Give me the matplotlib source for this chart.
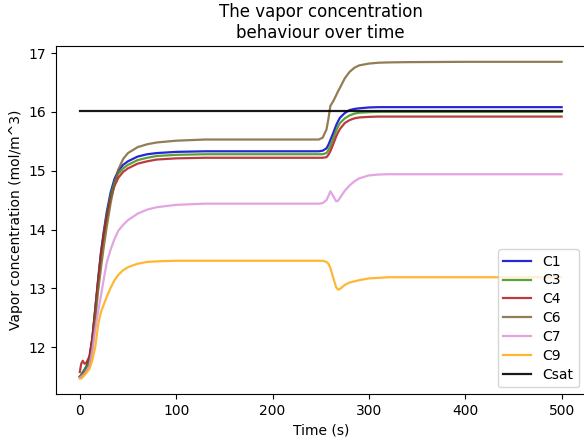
import matplotlib
matplotlib.use("Agg")
import matplotlib.pyplot as plt

# time samples (s)
time = [0, 1.5, 3, 5, 7, 10, 13, 16, 19, 22, 25, 28, 32, 36, 40, 45, 50, 60, 70, 80,
        100, 130, 200, 248, 252, 256, 258, 260, 263, 266, 268, 270, 275, 280, 285,
        290, 300, 310, 320, 340, 400, 500]

C1 = [11.50, 11.53, 11.57, 11.62, 11.68, 11.80, 12.15, 12.65, 13.15, 13.62, 13.98, 14.30,
      14.63, 14.86, 15.00, 15.10, 15.16, 15.24, 15.28, 15.30, 15.32, 15.33, 15.33, 15.33,
      15.34, 15.38, 15.44, 15.52, 15.64, 15.77, 15.84, 15.90, 15.98, 16.03, 16.05, 16.06,
      16.075, 16.08, 16.08, 16.08, 16.08, 16.08]
C3 = [11.50, 11.53, 11.57, 11.62, 11.68, 11.80, 12.13, 12.62, 13.12, 13.58, 13.94, 14.25,
      14.58, 14.81, 14.95, 15.04, 15.10, 15.18, 15.22, 15.25, 15.27, 15.28, 15.28, 15.28,
      15.28, 15.30, 15.35, 15.42, 15.55, 15.68, 15.75, 15.81, 15.89, 15.94, 15.97, 15.985,
      15.995, 16.0, 16.0, 16.0, 16.0, 16.0]
C4 = [11.58, 11.72, 11.77, 11.72, 11.74, 11.85, 12.15, 12.62, 13.12, 13.58, 13.92, 14.20,
      14.52, 14.74, 14.88, 14.98, 15.04, 15.12, 15.16, 15.19, 15.21, 15.22, 15.22, 15.22,
      15.22, 15.23, 15.27, 15.33, 15.45, 15.58, 15.65, 15.71, 15.81, 15.86, 15.89, 15.905,
      15.915, 15.92, 15.92, 15.92, 15.92, 15.92]
C6 = [11.50, 11.52, 11.54, 11.57, 11.62, 11.72, 11.98, 12.45, 12.95, 13.35, 13.72, 14.05,
      14.45, 14.78, 15.02, 15.20, 15.30, 15.40, 15.45, 15.48, 15.51, 15.53, 15.53, 15.53,
      15.56, 15.70, 15.88, 16.10, 16.18, 16.28, 16.35, 16.41, 16.57, 16.68, 16.75, 16.79,
      16.82, 16.835, 16.84, 16.845, 16.85, 16.85]
C7 = [11.48, 11.50, 11.52, 11.55, 11.60, 11.68, 11.95, 12.30, 12.60, 12.88, 13.17, 13.44,
      13.66, 13.84, 13.98, 14.08, 14.16, 14.27, 14.34, 14.38, 14.42, 14.44, 14.44, 14.44,
      14.45, 14.50, 14.57, 14.65, 14.57, 14.48, 14.49, 14.54, 14.66, 14.75, 14.82, 14.87,
      14.92, 14.935, 14.94, 14.94, 14.94, 14.94]
C9 = [11.47, 11.47, 11.49, 11.53, 11.57, 11.63, 11.78, 12.00, 12.38, 12.60, 12.73, 12.86,
      13.01, 13.14, 13.23, 13.31, 13.36, 13.42, 13.45, 13.46, 13.47, 13.47, 13.47, 13.47,
      13.47, 13.45, 13.42, 13.35, 13.18, 13.02, 12.98, 12.99, 13.06, 13.10, 13.12, 13.14,
      13.17, 13.18, 13.19, 13.19, 13.19, 13.19]
csat_time = [0, 500]
Csat = [16.02, 16.02]

series = [("C1", C1, "#0000cd"), ("C3", C3, "#3f8f1a"), ("C4", C4, "#b01a1e"),
          ("C6", C6, "#7f6636"), ("C7", C7, "#dd95dd"), ("C9", C9, "#ffab0f")]

fig = plt.figure(figsize=(5.84, 4.4), dpi=100)
ax = fig.add_axes([55.7 / 584, 1 - 394.3 / 440, 530 / 584, (394.3 - 46) / 440])

for name, vals, col in series:
    ax.plot(time, vals, color=col, lw=1.6, alpha=0.85, label=name)
ax.plot(csat_time, Csat, color="black", lw=1.6, alpha=0.9, label="Csat")

ax.set_xticks([0, 100, 200, 300, 400, 500])
ax.set_yticks([12, 13, 14, 15, 16, 17])
ax.set_xlabel("Time (s)")
ax.set_ylabel("Vapor concentration (mol/m^3)")
ax.set_title("The vapor concentration\nbehaviour over time")
ax.legend(loc="lower right", labelspacing=0.35)

fig.savefig("out.png", dpi=100)
